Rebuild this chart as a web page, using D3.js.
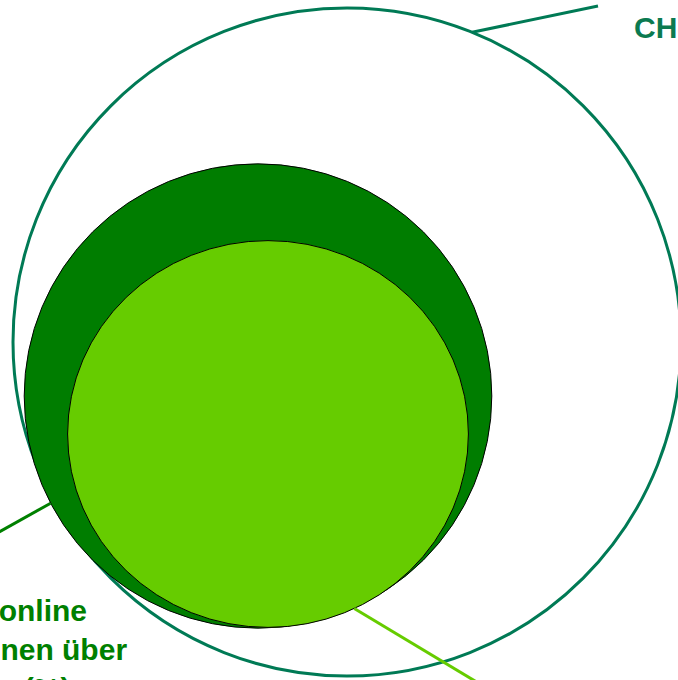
<!DOCTYPE html>
<html>
<head>
<meta charset="utf-8">
<script src="https://cdn.jsdelivr.net/npm/d3@7"></script>
<style>
  html, body { margin: 0; padding: 0; background: #fff; overflow: hidden; }
  svg { display: block; }
</style>
</head>
<body>
<div id="chart"></div>
<script>
// data
const categories = ["CH-Bevölkerung", "Personen online", "Online-Käufer"];
const values = [100, 49, 36];   // share in %
const labelLines = [
  ["CH-Bevölkerung"],
  ["Aktiv online", "Personen über", "Jahren (%)"],
  ["Online-Käufer"]
];

// layout (positions / styles)
const width = 678, height = 680;
const maxRadius = 334;
const centers = [
  {cx: 347, cy: 342, aspect: 1.0},
  {cx: 258, cy: 396, aspect: 0.993},
  {cx: 268, cy: 434, aspect: 0.965}
];
const fills = ["none", "#007d00", "#66cc00"];
const strokes = ["#007a55", "#000", "#000"];
const strokeWidths = [3, 1, 1];
const leaderColors = ["#007a55", "#008000", "#66cc00"];
// angle of leader start on the circle (deg, svg coords), leader end point
const leaders = [
  {angle: -68, x2: 598, y2: 6},
  {angle: 152.5, x2: -10, y2: 537},
  {angle: 64.5, x2: 480, y2: 684}
];
const labelPos = [
  {x: 634, y: 38, color: "#0b7a50"},
  {x: -83, y: 621, color: "#008000"},
  {x: 490, y: 720, color: "#66cc00"}
];
const lineHeight = 39;

const svg = d3.select("#chart")
  .append("svg")
  .attr("width", width)
  .attr("height", height);

const r = d3.scaleSqrt().domain([0, 100]).range([0, maxRadius]);

const nodes = categories.map((c, i) => ({
  name: c,
  value: values[i],
  cx: centers[i].cx,
  cy: centers[i].cy,
  rx: r(values[i]),
  ry: r(values[i]) * centers[i].aspect
}));

svg.selectAll("ellipse.bubble")
  .data(nodes)
  .join("ellipse")
  .attr("class", "bubble")
  .attr("cx", d => d.cx)
  .attr("cy", d => d.cy)
  .attr("rx", d => d.rx)
  .attr("ry", d => d.ry)
  .attr("fill", (d, i) => fills[i])
  .attr("stroke", (d, i) => strokes[i])
  .attr("stroke-width", (d, i) => strokeWidths[i]);

// leader lines
svg.selectAll("line.leader")
  .data(nodes)
  .join("line")
  .attr("class", "leader")
  .attr("x1", (d, i) => d.cx + d.rx * Math.cos(leaders[i].angle * Math.PI / 180))
  .attr("y1", (d, i) => d.cy + d.ry * Math.sin(leaders[i].angle * Math.PI / 180))
  .attr("x2", (d, i) => leaders[i].x2)
  .attr("y2", (d, i) => leaders[i].y2)
  .attr("stroke", (d, i) => leaderColors[i])
  .attr("stroke-width", 3);

// labels
const labels = svg.selectAll("text.label")
  .data(nodes)
  .join("text")
  .attr("class", "label")
  .attr("x", (d, i) => labelPos[i].x)
  .attr("y", (d, i) => labelPos[i].y)
  .attr("fill", (d, i) => labelPos[i].color)
  .style("font-family", "'Liberation Sans', Arial, sans-serif")
  .style("font-weight", "bold")
  .style("font-size", "30px");

labels.each(function(d, i) {
  d3.select(this).selectAll("tspan")
    .data(labelLines[i])
    .join("tspan")
    .attr("x", labelPos[i].x)
    .attr("dy", (t, j) => j === 0 ? 0 : lineHeight)
    .text(t => t);
});
</script>
</body>
</html>
